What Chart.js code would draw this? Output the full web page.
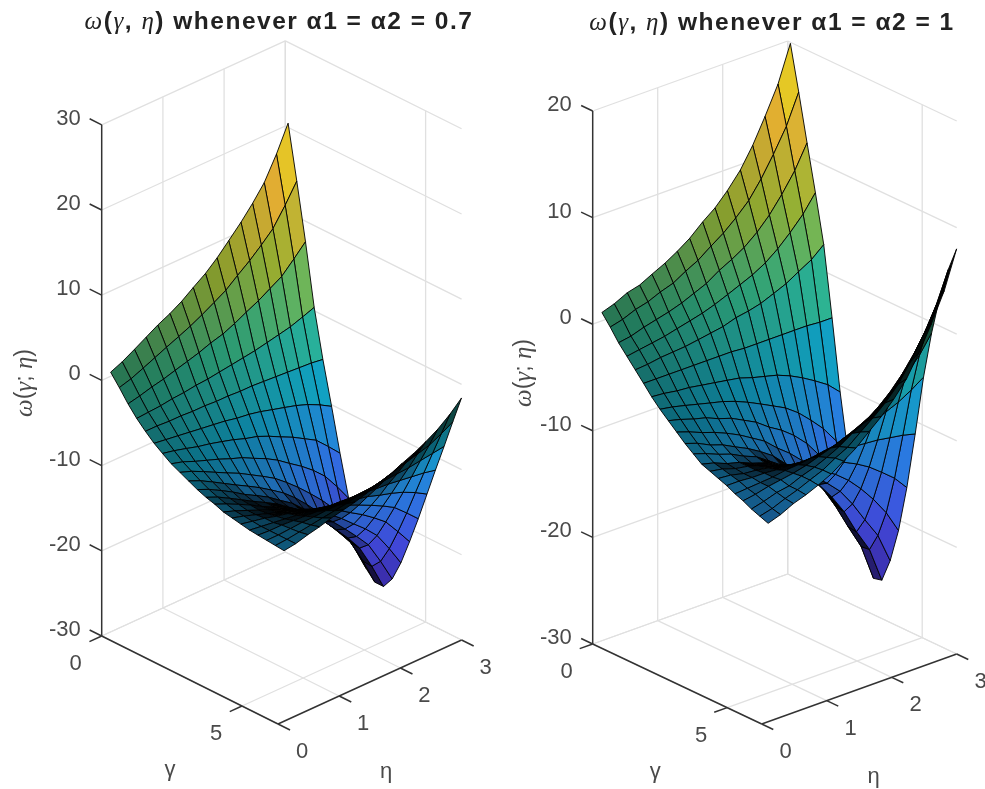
<!DOCTYPE html>
<html>
<head>
<meta charset="utf-8">
<title>omega surfaces</title>
<script src="https://cdn.jsdelivr.net/npm/chart.js@4/dist/chart.umd.min.js"></script>
<style>
  html, body { margin: 0; padding: 0; background: #fff; overflow: hidden; }
  canvas { display: block; }
</style>
</head>
<body>
<canvas id="chart" width="985" height="789"></canvas>
<script>
// Grid of the two surfaces (coarser than the mesh in the picture)
const gammaValues = [0.1, 0.41, 0.72, 1.03, 1.34, 1.65, 1.95, 2.26, 2.57, 2.88, 3.19, 3.5, 3.81, 4.12, 4.43, 4.74, 5.05, 5.35, 5.66, 5.97, 6.28];
const etaValues = [0.1, 0.29, 0.49, 0.68, 0.87, 1.07, 1.26, 1.45, 1.65, 1.84, 2.03, 2.23, 2.42, 2.61, 2.81, 3];

// omega, one row per eta value. The four edges are read off the picture,
// inner cells are estimates made between those edges.
const omegaLeft = [
  [0.8, -0.5, -1.9, -3.1, -4.1, -5, -5.7, -6.4, -6.9, -7.4, -7.9, -8.3, -8.6, -9, -9.2, -9.4, -9.6, -9.7, -9.8, -9.9, -10],
  [1.4, -0.1, -1.6, -3, -4.1, -5.2, -6, -6.8, -7.4, -8, -8.5, -8.9, -9.2, -9.5, -9.6, -9.7, -9.8, -9.8, -9.8, -9.8, -9.8],
  [2.2, 0.5, -1.2, -2.9, -4.2, -5.4, -6.4, -7.4, -8.1, -8.8, -9.3, -9.7, -9.9, -10.1, -10.1, -10, -10, -9.8, -9.7, -9.6, -9.4],
  [3, 1.1, -0.9, -2.7, -4.2, -5.6, -6.8, -7.9, -8.8, -9.6, -10.1, -10.5, -10.6, -10.7, -10.6, -10.4, -10.2, -9.9, -9.6, -9.4, -9.1],
  [3.8, 1.7, -0.5, -2.6, -4.3, -5.8, -7.1, -8.4, -9.5, -10.4, -11, -11.3, -11.4, -11.3, -11.1, -10.7, -10.4, -10, -9.6, -9.2, -8.7],
  [4.5, 2.3, -0.1, -2.4, -4.3, -6, -7.5, -9, -10.2, -11.2, -11.8, -12.1, -12.1, -12, -11.5, -11.1, -10.6, -10.1, -9.5, -9, -8.4],
  [5.3, 2.9, 0.3, -2.3, -4.4, -6.2, -7.9, -9.5, -11, -12, -12.6, -12.9, -12.8, -12.6, -12, -11.5, -10.8, -10.1, -9.5, -8.8, -8.1],
  [6.3, 3.6, 0.8, -2.1, -4.4, -6.5, -8.4, -10.2, -11.8, -12.9, -13.6, -13.9, -13.7, -13.3, -12.6, -11.9, -11.1, -10.2, -9.4, -8.5, -7.7],
  [7.3, 4.4, 1.2, -1.9, -4.5, -6.7, -8.8, -10.9, -12.7, -13.9, -14.6, -14.9, -14.6, -14.1, -13.3, -12.3, -11.4, -10.3, -9.3, -8.3, -7.2],
  [8.5, 5.2, 1.8, -1.7, -4.5, -7, -9.4, -11.7, -13.8, -15.1, -15.9, -16.1, -15.7, -15, -14, -12.9, -11.7, -10.4, -9.2, -8, -6.7],
  [9.9, 6.3, 2.5, -1.5, -4.6, -7.4, -10.1, -12.7, -15, -16.5, -17.3, -17.5, -17, -16.1, -14.9, -13.5, -12, -10.6, -9.1, -7.6, -6.1],
  [11.4, 7.4, 3.2, -1.2, -4.7, -7.8, -10.8, -13.7, -16.4, -18.1, -18.9, -19.1, -18.5, -17.4, -15.8, -14.2, -12.5, -10.7, -9, -7.2, -5.5],
  [13, 8.6, 4, -0.9, -4.8, -8.2, -11.6, -14.8, -17.8, -19.7, -20.6, -20.7, -20, -18.6, -16.8, -14.9, -12.9, -10.9, -8.9, -6.8, -4.8],
  [14.8, 9.9, 4.8, -0.6, -4.9, -8.7, -12.4, -16.1, -19.4, -21.5, -22.4, -22.5, -21.6, -20, -17.9, -15.7, -13.4, -11.1, -8.7, -6.4, -4],
  [17.5, 12, 6.2, -0.1, -5, -9.4, -13.8, -18, -21.9, -24.2, -25.2, -25.3, -24.2, -22.2, -19.7, -17, -14.1, -11.3, -8.5, -5.7, -2.9],
  [20.5, 14.2, 7.6, 0.4, -5.2, -10.2, -15.2, -20, -24.5, -27.2, -28.3, -28.3, -26.9, -24.5, -21.5, -18.3, -14.9, -11.6, -8.3, -4.9, -1.6]
];
const omegaRight = [
  [1, 0, -1.1, -2, -2.9, -3.8, -4.7, -5.5, -6.2, -6.9, -7.6, -8.2, -8.8, -9.1, -9.4, -9.7, -10.1, -10.4, -10.8, -11.1, -11.4],
  [1.4, 0.3, -0.9, -1.8, -2.8, -3.8, -4.8, -5.7, -6.5, -7.3, -8, -8.6, -9.1, -9.3, -9.5, -9.7, -10, -10.2, -10.5, -10.8, -11],
  [2, 0.8, -0.5, -1.6, -2.6, -3.8, -5, -6, -6.9, -7.8, -8.6, -9.1, -9.6, -9.7, -9.8, -9.8, -9.9, -9.9, -10.1, -10.3, -10.4],
  [2.3, 1.1, -0.2, -1.4, -2.5, -3.8, -5.1, -6.3, -7.2, -8.2, -9, -9.5, -9.9, -9.9, -9.9, -9.8, -9.8, -9.7, -9.9, -9.9, -10],
  [2.9, 1.6, 0.1, -1.1, -2.4, -3.8, -5.3, -6.6, -7.7, -8.7, -9.6, -10.1, -10.4, -10.3, -10.1, -9.9, -9.6, -9.5, -9.4, -9.4, -9.5],
  [3.5, 2, 0.5, -0.8, -2.2, -3.8, -5.5, -6.9, -8.1, -9.3, -10.2, -10.6, -10.8, -10.7, -10.3, -9.9, -9.5, -9.2, -9, -8.9, -8.9],
  [4.2, 2.7, 1, -0.5, -2, -3.8, -5.7, -7.3, -8.7, -10, -10.9, -11.4, -11.5, -11.1, -10.6, -10, -9.3, -8.8, -8.5, -8.2, -8.1],
  [5, 3.3, 1.5, -0.1, -1.8, -3.8, -5.9, -7.8, -9.3, -10.7, -11.7, -12.2, -12.1, -11.6, -10.9, -10, -9.1, -8.4, -7.9, -7.6, -7.3],
  [6.1, 4.2, 2.3, 0.4, -1.4, -3.9, -6.3, -8.4, -10.2, -11.8, -12.9, -13.3, -13, -12.3, -11.3, -10.1, -8.9, -7.9, -7.1, -6.6, -6.2],
  [7, 5, 2.9, 0.9, -1.2, -3.9, -6.6, -9, -10.9, -12.7, -13.9, -14.2, -13.8, -12.9, -11.7, -10.2, -8.6, -7.4, -6.5, -5.7, -5.2],
  [8.2, 6, 3.6, 1.4, -0.9, -3.9, -6.9, -9.6, -11.8, -13.8, -15, -15.3, -14.8, -13.6, -12.1, -10.3, -8.4, -6.8, -5.6, -4.7, -4],
  [9.7, 7.2, 4.6, 2.1, -0.4, -3.9, -7.4, -10.5, -13, -15.2, -16.6, -16.9, -16, -14.6, -12.7, -10.4, -8, -6.1, -4.5, -3.4, -2.5],
  [11.6, 8.8, 5.8, 3, 0.1, -3.9, -8, -11.6, -14.5, -17, -18.6, -18.7, -17.6, -15.8, -13.4, -10.5, -7.5, -5.1, -3.2, -1.7, -0.5],
  [13.9, 10.7, 7.3, 4.1, 0.8, -3.9, -8.7, -12.8, -16.3, -19.2, -20.9, -21, -19.5, -17.2, -14.3, -10.7, -7, -4, -1.6, 0.3, 1.8],
  [16.5, 12.9, 9.1, 5.4, 1.5, -4, -9.5, -14.4, -18.3, -21.4, -23.2, -23.1, -21.4, -18.9, -15.3, -10.9, -6.3, -2.7, 0.4, 2.7, 4.5],
  [19.9, 15.7, 11.3, 7, 2.5, -4, -10.6, -16.3, -21, -24.6, -26.6, -26.4, -24.2, -21, -16.6, -11.2, -5.5, -1, 2.8, 5.7, 8]
];

// Tick labels
const gammaTicks = [0, 5];
const etaTicks = [0, 1, 2, 3];
const omegaTicksLeft = [-30, -20, -10, 0, 10, 20, 30];
const omegaTicksRight = [-30, -20, -10, 0, 10, 20];
const titleLeft = ' whenever α1 = α2 = 0.7';
const titleRight = ' whenever α1 = α2 = 1';

// Axes limits
const GAMMA_MAX = 6.283;
const ETA_MAX = 3;

// parula colormap stops
const parula = [[62, 38, 168], [72, 82, 244], [46, 135, 247], [18, 177, 214], [55, 200, 151], [171, 199, 57], [254, 195, 56], [249, 251, 21]];

function colorFor(v, zMin, zMax, shade) {
  const t = Math.max(0, Math.min(0.9999, (v - zMin) / (zMax - zMin))) * (parula.length - 1);
  const i = Math.floor(t), f = t - i;
  const c = parula[i].map((p, k) => Math.round((p + (parula[i + 1][k] - p) * f) * shade));
  return 'rgb(' + c.join(',') + ')';
}

// Oblique projection of each axes box, in canvas units
const panelLeft = { x0: 101.7, y0: 636, gx: 28.06, gy: 14, ex: 61.2, ey: -28, zs: 8.52, zLow: -30, zHigh: 30, omega: omegaLeft, zTicks: omegaTicksLeft };
const panelRight = { x0: 592.7, y0: 644, gx: 26.9, gy: 12.73, ex: 65, ey: -23.33, zs: 10.66, zLow: -30, zHigh: 20, omega: omegaRight, zTicks: omegaTicksRight };

function project(p, g, e, z) {
  return { x: p.x0 + p.gx * g + p.ex * e, y: p.y0 + p.gy * g + p.ey * e - p.zs * (z - p.zLow) };
}

function lineSet(points, color, width) {
  return {
    data: points, showLine: true, fill: false, borderColor: color, borderWidth: width,
    pointRadius: 0, tension: 0, clip: false
  };
}

function gridSets(p) {
  const sets = [];
  const gridColor = '#e0e0e0';
  const add = (a, b) => sets.push(lineSet([project(p, a[0], a[1], a[2]), project(p, b[0], b[1], b[2])], gridColor, 1.3));
  p.zTicks.forEach(z => {
    add([0, 0, z], [0, ETA_MAX, z]);
    add([0, ETA_MAX, z], [GAMMA_MAX, ETA_MAX, z]);
  });
  etaTicks.forEach(e => {
    add([0, e, p.zLow], [GAMMA_MAX, e, p.zLow]);
    if (e > 0) add([0, e, p.zLow], [0, e, p.zHigh]);
  });
  gammaTicks.forEach(g => {
    add([g, 0, p.zLow], [g, ETA_MAX, p.zLow]);
    add([g, ETA_MAX, p.zLow], [g, ETA_MAX, p.zHigh]);
  });
  return sets;
}

function axisSets(p) {
  const sets = [];
  const axisColor = '#333333';
  const add = (a, b) => sets.push(lineSet([project(p, a[0], a[1], a[2]), project(p, b[0], b[1], b[2])], axisColor, 1.5));
  add([0, 0, p.zLow], [0, 0, p.zHigh]);
  add([0, 0, p.zLow], [GAMMA_MAX, 0, p.zLow]);
  add([GAMMA_MAX, 0, p.zLow], [GAMMA_MAX, ETA_MAX, p.zLow]);
  p.zTicks.forEach(z => add([0, 0, z], [-0.43, 0, z]));
  gammaTicks.forEach(g => add([g, 0, p.zLow], [g, -0.2, p.zLow]));
  etaTicks.forEach(e => add([GAMMA_MAX, e, p.zLow], [GAMMA_MAX + 0.43, e, p.zLow]));
  return sets;
}

// Cells seen nearly edge on go dark, the way a dense mesh closes up
function meshShade(pts, e) {
  const dist = (a, b) => Math.hypot(a.x - b.x, a.y - b.y);
  const w = (dist(pts[0], pts[1]) + dist(pts[3], pts[2])) / 2;
  const h = (dist(pts[1], pts[2]) + dist(pts[0], pts[3])) / 2;
  const area = Math.abs((pts[2].x - pts[0].x) * (pts[3].y - pts[1].y) - (pts[3].x - pts[1].x) * (pts[2].y - pts[0].y)) / 2;
  const thin = Math.min(area / w, area / h);
  const open = Math.max(0, Math.min(1, (thin - 3) / 6));
  return open * 0.92 * (0.62 + 0.38 * e / ETA_MAX);
}

// One filled dataset per mesh cell, nearest cell first so it ends up on top
function surfaceSets(p) {
  const all = p.omega.flat();
  const zMin = Math.min(...all), zMax = Math.max(...all);
  const cells = [];
  for (let j = 0; j < etaValues.length - 1; j++) {
    for (let i = 0; i < gammaValues.length - 1; i++) {
      const corners = [[i, j], [i + 1, j], [i + 1, j + 1], [i, j + 1], [i, j]];
      const pts = corners.map(c => project(p, gammaValues[c[0]], etaValues[c[1]], p.omega[c[1]][c[0]]));
      const mid = (p.omega[j][i] + p.omega[j][i + 1] + p.omega[j + 1][i] + p.omega[j + 1][i + 1]) / 4;
      const g = (gammaValues[i] + gammaValues[i + 1]) / 2, e = (etaValues[j] + etaValues[j + 1]) / 2;
      const depth = 0.0253 * g - 0.0508 * e + 0.000875 * mid;
      cells.push({ depth, pts, color: colorFor(mid, zMin, zMax, meshShade(pts, e)) });
    }
  }
  cells.sort((a, b) => b.depth - a.depth);
  return cells.map(c => ({
    data: c.pts, showLine: true, fill: 'shape', backgroundColor: c.color,
    borderColor: 'rgba(0,0,0,0.9)', borderWidth: 1, pointRadius: 0, tension: 0, clip: false
  }));
}

const TICK_COLOR = '#4a4a4a';
const TICK_FONT = '22px "Liberation Sans"';

// Writes a row of differently styled pieces centred on cx
function drawRuns(ctx, runs, cx, cy) {
  let total = 0;
  runs.forEach(r => { ctx.font = r.font; total += ctx.measureText(r.text).width; });
  let x = cx - total / 2;
  ctx.textAlign = 'left';
  runs.forEach(r => {
    ctx.font = r.font;
    ctx.fillText(r.text, x, cy);
    x += ctx.measureText(r.text).width;
  });
}

function titleRuns(rest) {
  const greek = 'italic 25px "Liberation Serif"', bold = 'bold 24.5px "Liberation Sans"';
  return [
    { text: 'ω', font: greek }, { text: '(', font: bold }, { text: 'γ', font: greek }, { text: ', ', font: bold },
    { text: 'η', font: greek }, { text: ')' + rest, font: bold }
  ];
}

const labelsPlugin = {
  id: 'boxLabels',
  afterDraw(chart) {
    const ctx = chart.ctx;
    const sx = chart.scales.x, sy = chart.scales.y;
    ctx.save();
    ctx.textBaseline = 'middle';

    [[panelLeft, titleLeft, 279, 22, 25, 383], [panelRight, titleRight, 772, 23, 524, 373]].forEach(item => {
      const p = item[0];
      ctx.fillStyle = '#222222';
      ctx.letterSpacing = '1.5px';
      drawRuns(ctx, titleRuns(item[1]), sx.getPixelForValue(item[2]), sy.getPixelForValue(item[3]));
      ctx.letterSpacing = '0px';

      ctx.fillStyle = TICK_COLOR;
      ctx.font = TICK_FONT;
      ctx.textAlign = 'right';
      p.zTicks.forEach(z => {
        const t = project(p, 0, 0, z);
        ctx.fillText(String(z), sx.getPixelForValue(t.x - 21), sy.getPixelForValue(t.y - 6));
      });
      ctx.textAlign = 'center';
      gammaTicks.forEach(g => {
        const t = project(p, g, 0, p.zLow);
        ctx.fillText(String(g), sx.getPixelForValue(t.x - 26), sy.getPixelForValue(t.y + 28));
      });
      etaTicks.forEach(e => {
        const t = project(p, GAMMA_MAX, e, p.zLow);
        ctx.fillText(String(e), sx.getPixelForValue(t.x + 24), sy.getPixelForValue(t.y + 28));
      });

      // axis names
      const g5 = project(p, 5, 0, p.zLow), e1 = project(p, GAMMA_MAX, 1, p.zLow);
      ctx.font = '22px "Liberation Sans"';
      ctx.fillText('γ', sx.getPixelForValue(g5.x - 72), sy.getPixelForValue(g5.y + 64));
      ctx.fillText('η', sx.getPixelForValue(e1.x + 47), sy.getPixelForValue(e1.y + 76));

      ctx.save();
      ctx.translate(sx.getPixelForValue(item[4]), sy.getPixelForValue(item[5]));
      ctx.rotate(-Math.PI / 2);
      const lab = 'italic 25px "Liberation Serif"', plain = '23px "Liberation Sans"';
      drawRuns(ctx, [
        { text: 'ω', font: lab }, { text: '(', font: plain }, { text: 'γ', font: lab }, { text: '; ', font: plain },
        { text: 'η', font: lab }, { text: ')', font: plain }
      ], 0, 0);
      ctx.restore();
    });
    ctx.restore();
  }
};

const datasets = [].concat(
  axisSets(panelLeft), axisSets(panelRight),
  surfaceSets(panelLeft), surfaceSets(panelRight),
  gridSets(panelLeft), gridSets(panelRight)
);

new Chart(document.getElementById('chart').getContext('2d'), {
  type: 'scatter',
  data: { datasets },
  options: {
    responsive: false,
    animation: false,
    events: [],
    layout: { padding: 0 },
    plugins: { legend: { display: false }, tooltip: { enabled: false } },
    scales: {
      x: { type: 'linear', min: 0, max: 985, display: false },
      y: { type: 'linear', min: 0, max: 789, reverse: true, display: false }
    }
  },
  plugins: [labelsPlugin]
});
</script>
</body>
</html>
